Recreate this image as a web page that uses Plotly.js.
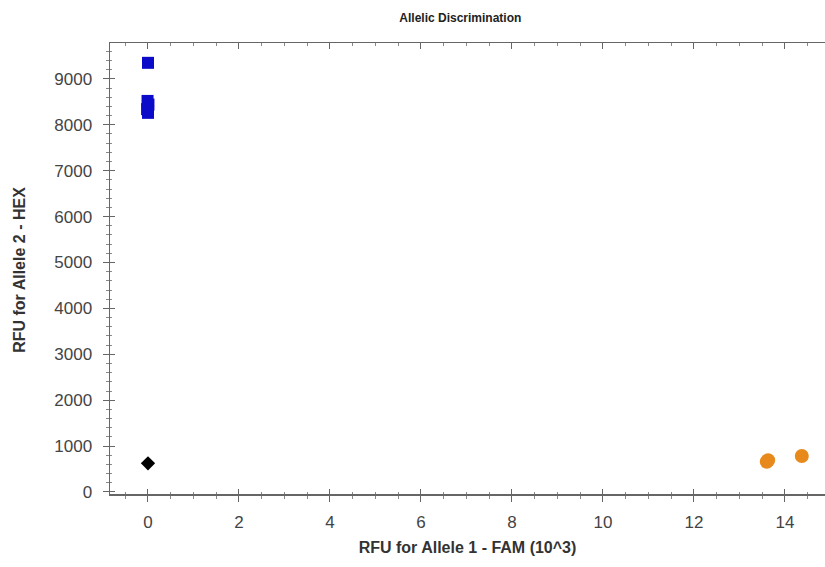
<!DOCTYPE html>
<html>
<head>
<meta charset="utf-8">
<script src="https://cdn.plot.ly/plotly-3.0.1.min.js"></script>
<style>
html,body{margin:0;padding:0;background:#fff;overflow:hidden;width:825px;height:567px;}
#wrap{width:825px;height:567px;overflow:hidden;position:relative;}
#chart{width:845px;height:567px;}
</style>
</head>
<body>
<div id="wrap"><div id="chart"></div></div>
<script>
// Allele 2 (HEX) homozygotes - blue squares
const hexX = [0.0, -0.01, 0.01, -0.02, 0.0];
const hexY = [9350, 8520, 8440, 8340, 8260];
// No template control - black diamond
const ntcX = [0.0];
const ntcY = [625];
// Allele 1 (FAM) homozygotes - orange circles
const famX = [13.6, 13.63, 14.37];
const famY = [660, 690, 785];

const xTickVals = [0, 2, 4, 6, 8, 10, 12, 14];
const yTickVals = [0, 1000, 2000, 3000, 4000, 5000, 6000, 7000, 8000, 9000];

const xRange = [-0.835, 14.88];
const yRange = [-44, 9782];

const traces = [
  {x: hexX, y: hexY, mode: 'markers', type: 'scatter', name: 'HEX',
   marker: {symbol: 'square', size: 12, color: '#0a0ac8'}},
  {x: ntcX, y: ntcY, mode: 'markers', type: 'scatter', name: 'NTC',
   marker: {symbol: 'diamond', size: 11, color: '#000000'}},
  {x: famX, y: famY, mode: 'markers', type: 'scatter', name: 'FAM',
   marker: {symbol: 'circle', size: 14, color: '#e8891c'}}
];

const tickFont = {family: 'Liberation Sans, Arial, sans-serif', size: 17, color: '#444'};
const titleFont = {family: 'Liberation Sans, Arial, sans-serif', size: 16, color: '#333'};

// The figure is 20px wider than the window; the extra right margin is clipped off
// so the plot area runs right up to the window edge like the reference.
const layout = {
  width: 845, height: 567,
  margin: {l: 110, r: 20, t: 43, b: 73},
  paper_bgcolor: '#fff', plot_bgcolor: '#fff',
  showlegend: false,
  title: {text: '<b>Allelic Discrimination</b>', x: 0.49, xref: 'paper', y: 1 - 18/567, yref: 'container', yanchor: 'middle',
          font: {family: 'Liberation Sans, Arial, sans-serif', size: 12, color: '#222'}},
  xaxis: {
    range: xRange, showgrid: false, zeroline: false, automargin: false,
    showline: true, linecolor: '#666', linewidth: 1.5, mirror: false,
    tickvals: xTickVals, ticks: 'outside', ticklen: 6, tickcolor: '#666',
    minor: {dtick: 0.5, tick0: 0, ticks: 'outside', ticklen: 3, tickcolor: '#888', showgrid: false},
    tickfont: tickFont, ticklabelstandoff: 6,
    title: {text: '<b>RFU for Allele 1 - FAM (10^3)</b>', font: titleFont}
  },
  xaxis2: {
    overlaying: 'x', side: 'top', range: xRange, showgrid: false, zeroline: false,
    showline: true, linecolor: '#666', linewidth: 1.5, mirror: false,
    tickvals: xTickVals, ticks: 'inside', ticklen: 6, tickcolor: '#666',
    minor: {dtick: 0.5, tick0: 0, ticks: 'inside', ticklen: 3, tickcolor: '#888', showgrid: false},
    showticklabels: false
  },
  xaxis3: {
    overlaying: 'x', side: 'bottom', range: xRange, showgrid: false, zeroline: false,
    showline: false, mirror: false,
    tickvals: xTickVals, ticks: 'inside', ticklen: 5, tickcolor: '#666',
    minor: {dtick: 0.5, tick0: 0, ticks: 'inside', ticklen: 2, tickcolor: '#888', showgrid: false},
    showticklabels: false
  },
  yaxis: {
    range: yRange, showgrid: false, zeroline: false, automargin: false,
    showline: true, linecolor: '#666', linewidth: 1.5, mirror: false,
    tickvals: yTickVals, ticks: 'outside', ticklen: 6, tickcolor: '#666',
    minor: {dtick: 200, tick0: 0, ticks: 'outside', ticklen: 3, tickcolor: '#888', showgrid: false},
    tickfont: tickFont, ticklabelstandoff: 7,
    title: {text: '', font: titleFont}
  },
  yaxis2: {
    overlaying: 'y', side: 'left', range: yRange, showgrid: false, zeroline: false,
    showline: false, mirror: false,
    tickvals: yTickVals, ticks: 'inside', ticklen: 5, tickcolor: '#666',
    minor: {dtick: 200, tick0: 0, ticks: 'inside', ticklen: 2, tickcolor: '#888', showgrid: false},
    showticklabels: false
  },
  annotations: [
    {text: '<b>RFU for Allele 2 - HEX</b>', xref: 'paper', yref: 'paper', x: 0, y: 0.497,
     xanchor: 'center', yanchor: 'middle', textangle: -90, showarrow: false, font: titleFont}
  ]
};
// place the y title at about x=20px: paper x = (20-110)/(845-110-20)
layout.annotations[0].x = (20 - 110) / 715;

// dummy traces to activate the overlay axes
traces.push({x: [], y: [], xaxis: 'x2', yaxis: 'y', type: 'scatter', mode: 'markers', hoverinfo: 'skip', showlegend: false});
traces.push({x: [], y: [], xaxis: 'x3', yaxis: 'y2', type: 'scatter', mode: 'markers', hoverinfo: 'skip', showlegend: false});

Plotly.newPlot('chart', traces, layout, {displayModeBar: false, staticPlot: true});
</script>
</body>
</html>
